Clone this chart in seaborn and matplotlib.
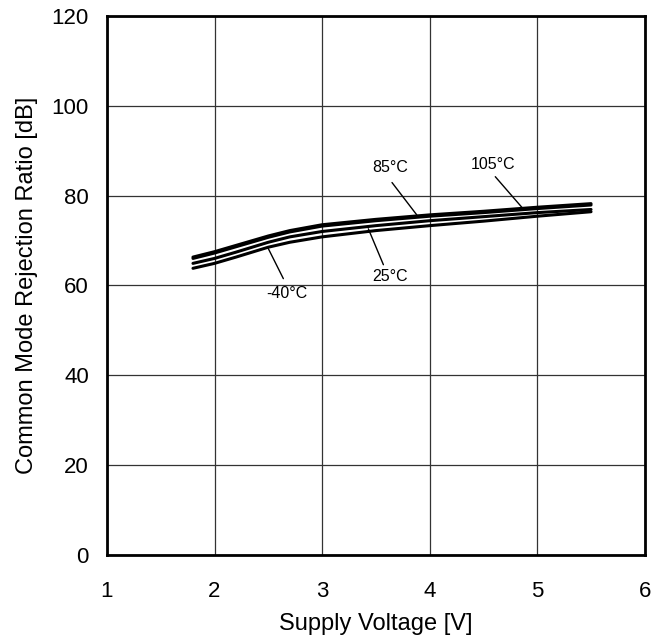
import seaborn as sns
import matplotlib.pyplot as plt
import pandas as pd

sns.set_theme(style="white")
plt.rcParams['font.family'] = ['Liberation Sans', 'DejaVu Sans']
plt.rcParams['text.color'] = 'black'
plt.rcParams['axes.labelcolor'] = 'black'
plt.rcParams['xtick.color'] = 'black'
plt.rcParams['ytick.color'] = 'black'

# Supply voltage [V]
vdd = [1.8, 2.0, 2.2, 2.5, 2.7, 3.0, 3.5, 4.0, 4.5, 5.0, 5.5]

# CMRR [dB] per temperature
cmrr_105 = [66.3, 67.5, 68.9, 71.0, 72.2, 73.5, 74.7, 75.7, 76.5, 77.4, 78.2]
cmrr_85 = [66.0, 67.2, 68.6, 70.7, 71.9, 73.2, 74.4, 75.4, 76.2, 77.1, 77.9]
cmrr_25 = [64.9, 66.0, 67.4, 69.6, 70.8, 72.0, 73.3, 74.4, 75.3, 76.2, 76.9]
cmrr_m40 = [63.8, 64.9, 66.3, 68.5, 69.6, 70.8, 72.2, 73.3, 74.3, 75.4, 76.4]

temps = ['105°C', '85°C', '25°C', '-40°C']

df = pd.DataFrame({
    'vdd': vdd * 4,
    'cmrr': cmrr_105 + cmrr_85 + cmrr_25 + cmrr_m40,
    'temp': sum([[t] * len(vdd) for t in temps], []),
})

fig = plt.figure(figsize=(6.6, 6.37), dpi=100)
ax = fig.add_axes([0.162, 0.129, 0.815, 0.846])

sns.lineplot(data=df, x='vdd', y='cmrr', hue='temp', palette=['black'] * 4,
             linewidth=2.2, legend=False, ax=ax)

ax.set_xlim(1, 6)
ax.set_ylim(0, 120)
ax.set_xticks(range(1, 7))
ax.set_yticks(range(0, 121, 20))
ax.grid(True, color='#333333', linewidth=0.9)
for s in ax.spines.values():
    s.set_color('black')
    s.set_linewidth(2)
ax.tick_params(labelsize=16, direction='in', length=3, color='black')
ax.tick_params(axis='x', pad=19)
ax.tick_params(axis='y', pad=13)
ax.set_xlabel('Supply Voltage [V]', fontsize=17, labelpad=8)
ax.set_ylabel('Common Mode Rejection Ratio [dB]', fontsize=17, labelpad=9.5)

# labels with leader lines
notes = [
    ('85°C', 3.63, 86.2, 3.65, 82.9, 3.88, 75.7),
    ('105°C', 4.59, 86.9, 4.61, 84.2, 4.86, 77.3),
    ('25°C', 3.63, 61.9, 3.57, 64.6, 3.43, 72.6),
    ('-40°C', 2.67, 58.1, 2.64, 61.5, 2.50, 68.2),
]
for txt, tx, ty, x0, y0, x1, y1 in notes:
    ax.text(tx, ty, txt, ha='center', va='center', fontsize=11.5)
    ax.plot([x0, x1], [y0, y1], color='black', linewidth=1)

fig.savefig('out.png', dpi=100)
